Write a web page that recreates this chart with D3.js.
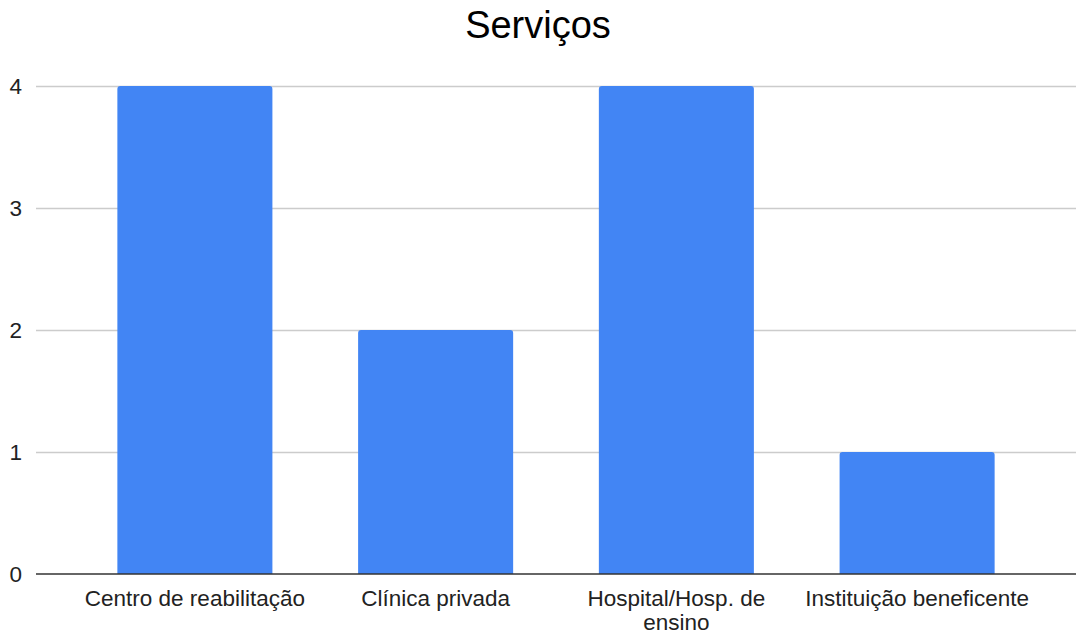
<!DOCTYPE html>
<html>
<head>
<meta charset="utf-8">
<script src="https://cdn.jsdelivr.net/npm/d3@7"></script>
<style>
  body { margin: 0; background: #fff; }
  svg { display: block; }
</style>
</head>
<body>
<script>
const categories = ["Centro de reabilitação", "Clínica privada", "Hospital/Hosp. de ensino", "Instituição beneficente"];
const counts = [4, 2, 4, 1];
const yTicks = [0, 1, 2, 3, 4];
const title = "Serviços";

const width = 1076, height = 635;
const margin = { top: 86, right: 0, bottom: 61, left: 36 };
const font = "'Liberation Sans', Arial, sans-serif";

const svg = d3.select("body").append("svg")
  .attr("width", width)
  .attr("height", height);

const x = d3.scaleBand()
  .domain(categories)
  .range([margin.left, width - margin.right])
  .paddingInner(0.356)
  .paddingOuter(0.338);

const y = d3.scaleLinear()
  .domain([0, 4])
  .range([height - margin.bottom, margin.top]);

// Title
svg.append("text")
  .attr("x", width / 2)
  .attr("y", 38)
  .attr("text-anchor", "middle")
  .attr("font-family", font)
  .attr("font-size", "38px")
  .attr("fill", "#000")
  .text(title);

// Gridlines
svg.append("g")
  .selectAll("line")
  .data(yTicks.filter(d => d > 0))
  .join("line")
  .attr("x1", margin.left)
  .attr("x2", width - margin.right)
  .attr("y1", d => Math.round(y(d)) + 0.5)
  .attr("y2", d => Math.round(y(d)) + 0.5)
  .attr("stroke", "#cccccc")
  .attr("stroke-width", 1.5);

// Y tick labels
svg.append("g")
  .selectAll("text")
  .data(yTicks)
  .join("text")
  .attr("x", 22)
  .attr("y", d => y(d))
  .attr("dy", "0.35em")
  .attr("text-anchor", "end")
  .attr("font-family", font)
  .attr("font-size", "22.5px")
  .attr("fill", "#222")
  .text(d => d);

// Bars with rounded top corners
const r = 3;
svg.append("g")
  .selectAll("path")
  .data(categories)
  .join("path")
  .attr("fill", "#4285f4")
  .attr("d", (d, i) => {
    const x0 = x(d), x1 = x(d) + x.bandwidth();
    const y0 = y(0), y1 = y(counts[i]);
    const p = d3.path();
    p.moveTo(x0, y0);
    p.lineTo(x0, y1 + r);
    p.quadraticCurveTo(x0, y1, x0 + r, y1);
    p.lineTo(x1 - r, y1);
    p.quadraticCurveTo(x1, y1, x1, y1 + r);
    p.lineTo(x1, y0);
    p.closePath();
    return p.toString();
  });

// Baseline
svg.append("line")
  .attr("x1", margin.left)
  .attr("x2", width - margin.right)
  .attr("y1", y(0))
  .attr("y2", y(0))
  .attr("stroke", "#333")
  .attr("stroke-width", 1.5);

// X labels (wrapped)
const xLabels = svg.append("g")
  .selectAll("text")
  .data(categories)
  .join("text")
  .attr("x", d => x(d) + x.bandwidth() / 2)
  .attr("y", y(0) + 32)
  .attr("text-anchor", "middle")
  .attr("font-family", font)
  .attr("font-size", "22.5px")
  .attr("fill", "#222");

xLabels.each(function (d) {
  const el = d3.select(this);
  const words = d.split(" ");
  const maxW = 236;
  let line = [];
  let tspan = el.append("tspan").attr("x", x(d) + x.bandwidth() / 2).attr("dy", 0);
  words.forEach(w => {
    line.push(w);
    tspan.text(line.join(" "));
    if (tspan.node().getComputedTextLength() > maxW && line.length > 1) {
      line.pop();
      tspan.text(line.join(" "));
      line = [w];
      tspan = el.append("tspan")
        .attr("x", x(d) + x.bandwidth() / 2)
        .attr("dy", "24px")
        .text(w);
    }
  });
});
</script>
</body>
</html>
